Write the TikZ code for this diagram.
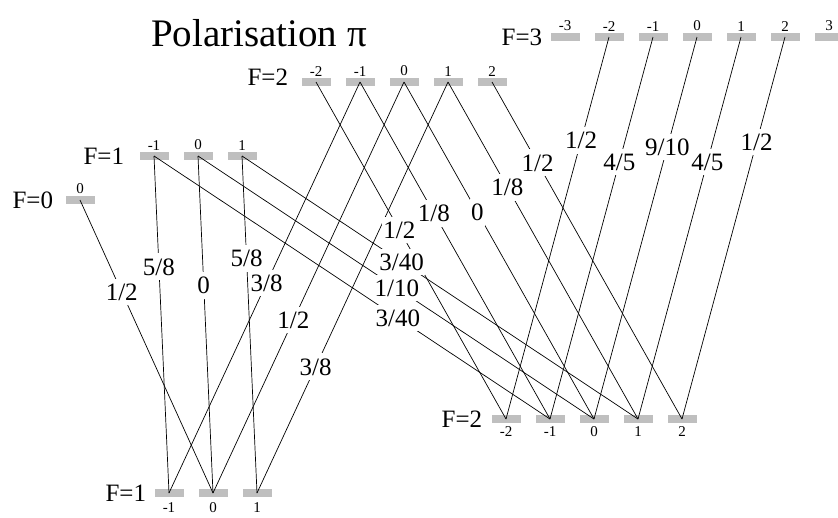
\documentclass[tikz,border=0pt]{standalone}
\usepackage{fontspec}
\setmainfont{Liberation Serif}
\tikzset{
  lvl/.style={fill=gray!50, minimum width=29pt, minimum height=8pt, inner sep=0pt},
  mlab/.style={font=\fontsize{15}{17}\selectfont, inner sep=1.5pt},
  flab/.style={font=\fontsize{25}{28}\selectfont, anchor=east, inner sep=0pt},
  trans/.style={line width=0.7pt},
  frac/.style={fill=white, font=\fontsize{25}{28}\selectfont, inner xsep=1pt, inner ysep=5pt}
}
% from / to / pos / strength
\def\translist{%
  up0m0/lo1m0/0.314/{1/2},%
  up1m-1/lo1m-1/0.329/{5/8},%
  up1m0/lo1m0/0.383/0,%
  up1m1/lo1m1/0.303/{5/8},%
  up1m-1/lo2m-1/0.616/{3/40},%
  up1m0/lo2m0/0.502/{1/10},%
  up1m1/lo2m1/0.403/{3/40},%
  up2m-1/lo1m-1/0.489/{3/8},%
  up2m0/lo1m0/0.579/{1/2},%
  up2m1/lo1m1/0.693/{3/8},%
  up2m-2/lo2m-2/0.439/{1/2},%
  up2m-1/lo2m-1/0.389/{1/8},%
  up2m0/lo2m0/0.386/0,%
  up2m1/lo2m1/0.312/{1/8},%
  up2m2/lo2m2/0.240/{1/2},%
  up3m-2/lo2m-2/0.270/{1/2},%
  up3m-1/lo2m-1/0.327/{4/5},%
  up3m0/lo2m0/0.288/{9/10},%
  up3m1/lo2m1/0.327/{4/5},%
  up3m2/lo2m2/0.275/{1/2}}
\begin{document}
\begin{tikzpicture}[x=1pt,y=-1pt]
			\useasboundingbox (0,0) rectangle (838,517);
			\node[font=\fontsize{39}{42}\selectfont] (title) at (259,33) {Polarisation π};
			% Upper levels
			\node[lvl] (up0m0) at (80,200) {};
			\node[mlab,above] (up0t0) at (up0m0.north) {0};
			\foreach \m in {-1,0,1} {
				\node[lvl] (up1m\m) at ({198+44*\m},156) {};
				\node[mlab,above] (up1t\m) at (up1m\m.north) {\m};
			}
			\foreach \m in {-2,...,2} {
				\node[lvl] (up2m\m) at ({404+44*\m},82) {};
				\node[mlab,above] (up2t\m) at (up2m\m.north) {\m};
			}
			\foreach \m in {-3,...,3} {
				\node[lvl] (up3m\m) at ({697+44*\m},37) {};
				\node[mlab,above] (up3t\m) at (up3m\m.north) {\m};
			}
			\node[flab] (up0F) at ([xshift=-12pt]up0m0.west) {F=0};
			\node[flab] (up1F) at ([xshift=-15pt]up1m-1.west) {F=1};
			\node[flab] (up2F) at ([xshift=-13pt,yshift=5pt]up2m-2.west) {F=2};
			\node[flab] (up3F) at ([xshift=-8pt]up3m-3.west) {F=3};
			% Lower levels
			\foreach \m in {-1,0,1} {
				\node[lvl] (lo1m\m) at ({213+44*\m},493) {};
				\node[mlab,below=4pt] (lo1t\m) at (lo1m\m.south) {\m};
			}
			\foreach \m in {-2,...,2} {
				\node[lvl] (lo2m\m) at ({594+44*\m},419) {};
				\node[mlab,below=2pt] (lo2t\m) at (lo2m\m.south) {\m};
			}
			\node[flab] (lo1F) at ([xshift=-8pt]lo1m-1.west) {F=1};
			\node[flab] (lo2F) at ([xshift=-9pt]lo2m-2.west) {F=2};
			% Transitions, then strengths on top
			\foreach \a/\b/\p/\t in \translist
				\draw[trans] (\a.center) -- (\b.center);
			\foreach \a/\b/\p/\t in \translist
				\path (\a.center) -- node[frac,pos=\p] {\t} (\b.center);
\end{tikzpicture}
\end{document}
